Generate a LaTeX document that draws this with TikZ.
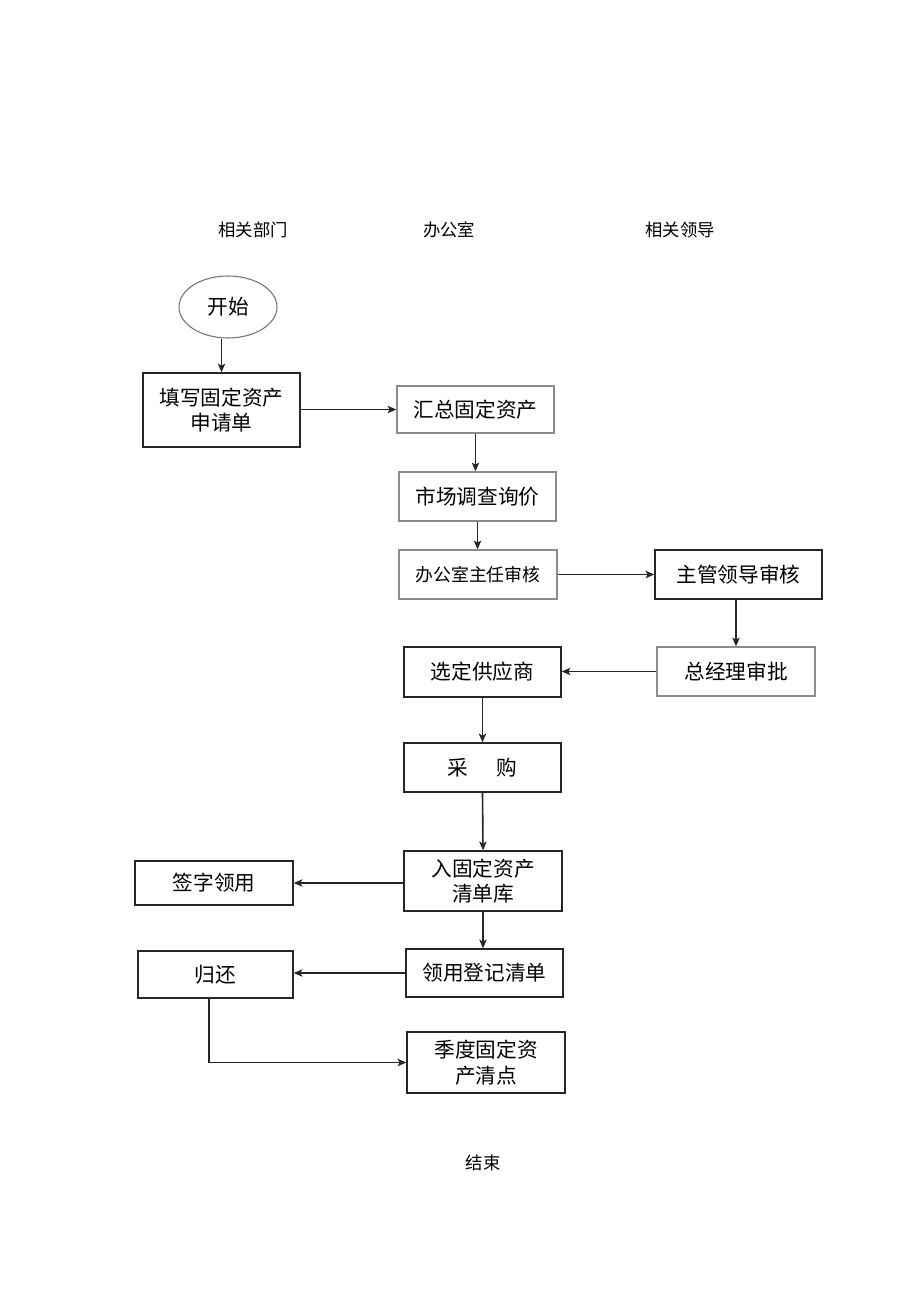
\documentclass[tikz,border=0pt]{standalone}
\usepackage{fontspec}
\newfontfamily\cjk{Noto Sans CJK SC}
\usetikzlibrary{arrows,arrows.meta,shapes.geometric}

\begin{document}
\begin{tikzpicture}[x=0.75pt,y=-0.75pt,>={Stealth[length=6.5pt,width=5.5pt,inset=1.5pt]},
  lane/.style={font=\cjk\fontsize{13}{15}\selectfont},
  box/.style={draw=black!85,line width=1pt,align=center,inner sep=0pt,
    font=\cjk\fontsize{15.5}{19}\selectfont},
  greybox/.style={box,draw=black!45},
  link/.style={->,line width=1.2pt,black!85}]
\useasboundingbox (0,0) rectangle (920,1301);
% lane titles
\node[lane] (deptT) at (253,230) {相关部门};
\node[lane] (officeT) at (449,230) {办公室};
\node[lane] (leadT) at (680,230) {相关领导};
% steps
\node[ellipse,draw=black!55,line width=0.8pt,minimum width=98*0.75pt,minimum height=62*0.75pt,font=\cjk\fontsize{15.5}{19}\selectfont] (start) at (228,307) {开始};
\node[box,minimum width=157*0.75pt,minimum height=74*0.75pt] (apply) at (221.5,410) {填写固定资产\\申请单};
\node[greybox,minimum width=157*0.75pt,minimum height=47*0.75pt] (sum) at (475.5,409.5) {汇总固定资产};
\node[greybox,minimum width=157*0.75pt,minimum height=49*0.75pt] (market) at (477.5,496.5) {市场调查询价};
\node[greybox,minimum width=158*0.75pt,minimum height=49*0.75pt,font=\cjk\fontsize{13.4}{16}\selectfont] (dirchk) at (478,574.5) {办公室主任审核};
\node[box,minimum width=167*0.75pt,minimum height=49*0.75pt] (leadchk) at (738.5,574.5) {主管领导审核};
\node[greybox,minimum width=158*0.75pt,minimum height=49*0.75pt] (gmok) at (736,671.5) {总经理审批};
\node[box,minimum width=157*0.75pt,minimum height=50*0.75pt] (supplier) at (482.5,672) {选定供应商};
\node[box,minimum width=157*0.75pt,minimum height=49*0.75pt] (buy) at (482.5,767.5) {采\hspace{1.4em}购};
\node[box,minimum width=158*0.75pt,minimum height=60*0.75pt] (stock) at (483,881) {入固定资产\\清单库};
\node[box,minimum width=158*0.75pt,minimum height=44*0.75pt] (sign) at (214,883) {签字领用};
\node[box,minimum width=157*0.75pt,minimum height=48*0.75pt] (register) at (484.5,973) {领用登记清单};
\node[box,minimum width=155*0.75pt,minimum height=47*0.75pt] (giveback) at (215.5,974.5) {归还};
\node[box,minimum width=158*0.75pt,minimum height=61*0.75pt] (count) at (486,1062.5) {季度固定资\\产清点};
\node[lane] (finish) at (483,1163) {结束};
% connectors
\draw[link] (start.south -| apply.north) -- (apply.north);
\draw[link] (apply.east |- sum.west) -- (sum.west);
\draw[link] (sum.south) -- (sum.south |- market.north);
\draw[link] (market.south) -- (market.south |- dirchk.north);
\draw[link] (dirchk.east) -- (dirchk.east -| leadchk.west);
\draw[link] (leadchk.south -| gmok.north) -- (gmok.north);
\draw[link] (gmok.west) -- (gmok.west -| supplier.east);
\draw[link] (supplier.south) -- (buy.north);
\draw[link] (buy.south) -- (stock.north);
\draw[link] (stock.west |- sign.east) -- (sign.east);
\draw[link] (stock.south) -- (stock.south |- register.north);
\draw[link] (register.west) -- (register.west -| giveback.east);
\draw[link] ([xshift=-5pt]giveback.south) |- (count.west);
\end{tikzpicture}
\end{document}
